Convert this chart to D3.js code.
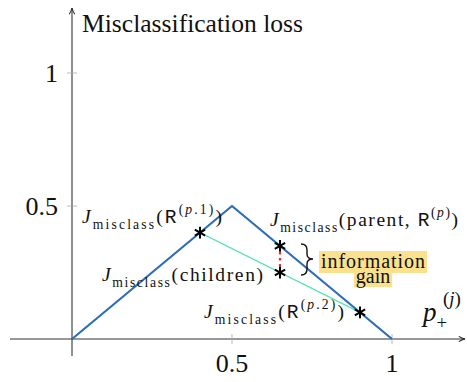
<!DOCTYPE html>
<html><head><meta charset="utf-8">
<script src="https://cdn.jsdelivr.net/npm/d3@7"></script>
<style>html,body{margin:0;padding:0;background:#fff;}svg{display:block;}</style>
</head><body>
<svg id="c" width="467" height="382"></svg>
<script>
// ---- data ----
const lossX = [0, 0.5, 1];
const lossY = [0, 0.5, 0];
const childX = [0.4, 0.9];
const childY = [0.4, 0.1];
const parentPt = [0.65, 0.35];
const childAvgPt = [0.65, 0.25];
const xTicks = [0.5, 1];
const yTicks = [0.5, 1];
const xTickLabels = ["0.5", "1"];
const yTickLabels = ["0.5", "1"];
const yTitle = "Misclassification loss";
const gainLines = ["information", "gain"];

const svg = d3.select("#c");
const x = d3.scaleLinear().domain([0, 1]).range([72, 392]);
const y = d3.scaleLinear().domain([0, 1]).range([339, 73]);
const serif = '"Liberation Serif", "Times New Roman", serif';
const mono = '"Liberation Mono", "DejaVu Sans Mono", monospace';

function txt(sel) { return sel.style("font-family", serif).attr("fill", "#111"); }
function fit(t, w) {
  const cur = parseFloat(t.style("font-size"));
  const L = t.node().getComputedTextLength();
  t.style("font-size", (cur * w / L) + "px");
}

// axes
const marker = svg.append("defs").append("marker").attr("id","arr")
  .attr("viewBox","0 0 10 10").attr("refX",9).attr("refY",5)
  .attr("markerWidth",7).attr("markerHeight",7).attr("orient","auto-start-reverse");
marker.append("path").attr("d","M1,1.5 Q5,4 9,5 Q5,6 1,8.5").attr("fill","none").attr("stroke","#222").attr("stroke-width",1.3);

svg.append("line").attr("x1",10).attr("x2",465).attr("y1",y(0)).attr("y2",y(0))
  .attr("stroke","#333").attr("stroke-width",1.1).attr("marker-end","url(#arr)");
svg.append("line").attr("x1",x(0)).attr("x2",x(0)).attr("y1",356).attr("y2",8)
  .attr("stroke","#333").attr("stroke-width",1.1).attr("marker-end","url(#arr)");

// ticks
svg.selectAll(".xt").data(xTicks).enter().append("line")
  .attr("x1",d=>x(d)).attr("x2",d=>x(d)).attr("y1",y(0)-5).attr("y2",y(0)+5)
  .attr("stroke","#aaa").attr("stroke-width",0.8);
svg.selectAll(".yt").data(yTicks).enter().append("line")
  .attr("y1",d=>y(d)).attr("y2",d=>y(d)).attr("x1",x(0)-5).attr("x2",x(0)+5)
  .attr("stroke","#aaa").attr("stroke-width",0.8);
txt(svg.selectAll(".xl").data(xTicks).enter().append("text")
  .attr("x",d=>x(d)).attr("y",y(0)+33).attr("text-anchor","middle")
  .style("font-size","26px").text((d,i)=>xTickLabels[i]));
txt(svg.selectAll(".yl").data(yTicks).enter().append("text")
  .attr("x",x(0)-14).attr("y",d=>y(d)+9).attr("text-anchor","end")
  .style("font-size","26px").text((d,i)=>yTickLabels[i]));

const title = txt(svg.append("text").attr("x",82).attr("y",32).style("font-size","25px").text(yTitle));
fit(title, 221);

// lines
const line = d3.line().x(d=>x(d[0])).y(d=>y(d[1]));
svg.append("path").datum(childX.map((v,i)=>[v,childY[i]])).attr("d",line)
  .attr("fill","none").attr("stroke","#5fe3b4").attr("stroke-width",1.3);
svg.append("path").datum(lossX.map((v,i)=>[v,lossY[i]])).attr("d",line)
  .attr("fill","none").attr("stroke","#2f6db6").attr("stroke-width",2.2).attr("stroke-linejoin","round");
svg.append("path").datum([parentPt, childAvgPt]).attr("d",line)
  .attr("fill","none").attr("stroke","#e8302a").attr("stroke-width",2.2).attr("stroke-dasharray","2.5,3.5");

// stars
const stars = [[childX[0],childY[0]],[childX[1],childY[1]],parentPt,childAvgPt];
const sym = d3.symbol().type(d3.symbolAsterisk).size(100);
svg.selectAll(".st").data(stars).enter().append("path")
  .attr("d",sym).attr("transform",d=>`translate(${x(d[0])},${y(d[1])})`)
  .attr("fill","none").attr("stroke","#000").attr("stroke-width",2);

// rich labels
function rich(px, py, segs, size, targetW) {
  const t = txt(svg.append("text").attr("x",px).attr("y",py));
  let cur = 0;
  segs.forEach(s => {
    const sp = t.append("tspan").text(s.t);
    let off = 0, fs = size;
    if (s.sub) { off = 0.3*size; fs = size*0.7; }
    if (s.sup) { off = -0.45*size; fs = size*0.7; }
    sp.style("font-size",fs+"px").attr("dy", off - cur);
    cur = off;
    if (s.it) sp.style("font-style","italic");
    if (s.tt) sp.style("font-family",mono);
  });
  if (targetW) t.attr("textLength", targetW).attr("lengthAdjust","spacing");
  return t;
}
const J = [{t:"J",it:1},{t:"misclass",sub:1}];
rich(82, 223, [...J,{t:"("},{t:"R",tt:1},{t:"(",sup:1},{t:"p",sup:1,it:1},{t:".1)",sup:1},{t:")"}], 19.5, 140);
rich(270, 226, [...J,{t:"(parent, "},{t:"R",tt:1},{t:"(",sup:1},{t:"p",sup:1,it:1},{t:")",sup:1},{t:")"}], 19.5, 188);
rich(102, 281, [...J,{t:"(children)"}], 19.5, 161);
rich(204, 318, [...J,{t:"("},{t:"R",tt:1},{t:"(",sup:1},{t:"p",sup:1,it:1},{t:".2)",sup:1},{t:")"}], 19.5, 140);
rich(423, 321, [{t:"p",it:1},{t:"+",sub:1}], 27);
rich(443, 305, [{t:"("},{t:"j",it:1},{t:")"}], 19);

// brace
svg.append("path")
  .attr("d","M301,244 Q307,244 307,250 L307,254 Q307,259 313,259 Q307,259 307,264 L307,269 Q307,275 301,275")
  .attr("fill","none").attr("stroke","#111").attr("stroke-width",1.4);

// information gain
const gy = [268, 283];
const gx = 373;
let gfs = 20;
gainLines.forEach((s,i) => {
  const t = txt(svg.append("text").attr("x",gx).attr("y",gy[i]).attr("text-anchor","middle")
    .style("font-size",gfs+"px").text(s));
  if (i === 0) t.attr("textLength",104).attr("lengthAdjust","spacing");
  const b = t.node().getBBox();
  svg.insert("rect","text").attr("x",b.x-2).attr("y",i===0?251:273).attr("width",b.width+4)
    .attr("height",i===0?22:14).attr("fill","#fbe08e");
});
</script>
</body></html>
